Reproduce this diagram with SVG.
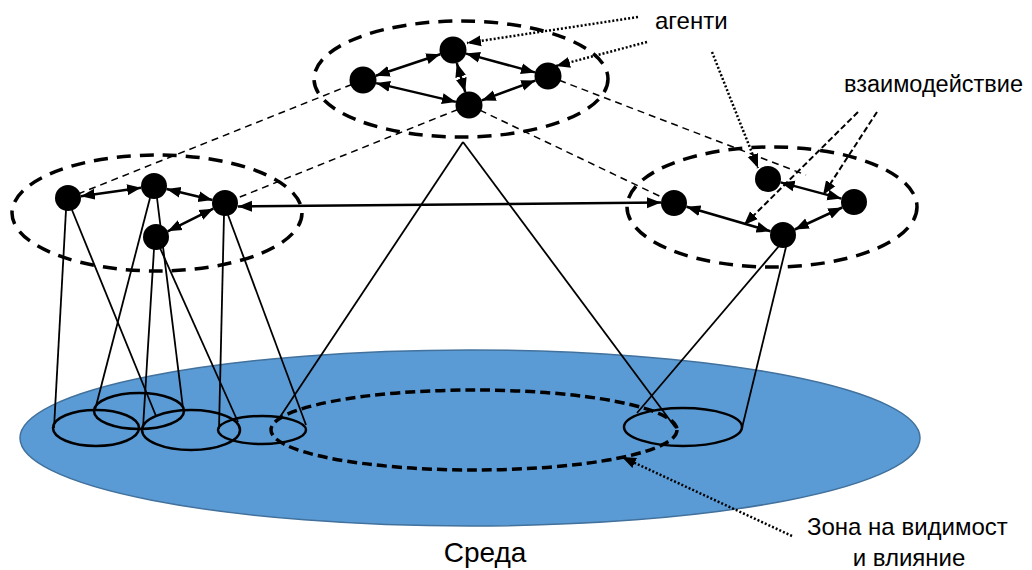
<svg xmlns="http://www.w3.org/2000/svg" width="1032" height="570" viewBox="0 0 1032 570">
  <style>
    .txt { font-family: "Liberation Sans", Arial, sans-serif; fill: #000; }
    .group-ring { fill: none; stroke: #000; stroke-width: 3.5; stroke-dasharray: 14 9; }
    .zone-ring { fill: none; stroke: #000; stroke-width: 3.5; stroke-dasharray: 10 5; }
    .footprint { fill: none; stroke: #000; stroke-width: 2.5; }
    .cone { stroke: #000; stroke-width: 1.8; fill: none; }
    .link { stroke: #000; stroke-width: 1.5; stroke-dasharray: 7 5; fill: none; }
    .agent { fill: #000; }
    .arrow2 { stroke: #000; stroke-width: 2.5; fill: none; marker-start: url(#head); marker-end: url(#head); }
    .dotted { stroke: #000; stroke-width: 2.5; stroke-dasharray: 2 2; fill: none; marker-end: url(#head); }
    .dashptr { stroke: #000; stroke-width: 2; stroke-dasharray: 6 3; fill: none; marker-end: url(#head); }
  </style>
  <defs>
    <marker id="head" markerUnits="userSpaceOnUse" markerWidth="15" markerHeight="12" refX="14" refY="5.5" orient="auto-start-reverse" viewBox="0 0 15 11">
      <path d="M0,0 L14,5.5 L0,11 z" fill="#000"/>
    </marker>
  </defs>

  <!-- environment -->
  <g id="environment">
    <ellipse cx="470" cy="438" rx="450" ry="88" fill="#5B9BD5" stroke="#41719C" stroke-width="1.5"/>
    <ellipse class="zone-ring" cx="474" cy="430" rx="203" ry="40"/>
    <ellipse class="footprint" cx="96" cy="428" rx="43" ry="18"/>
    <ellipse class="footprint" cx="139" cy="411" rx="45" ry="18"/>
    <ellipse class="footprint" cx="191" cy="430" rx="49" ry="20"/>
    <ellipse class="footprint" cx="262" cy="430" rx="44" ry="14"/>
    <ellipse class="footprint" cx="683" cy="427" rx="59" ry="19"/>
  </g>

  <!-- connectors -->
  <g id="connectors">
    <!-- projection cones onto the environment -->
    <line class="cone" x1="66" y1="210" x2="54" y2="428"/>
    <line class="cone" x1="72" y1="210" x2="156" y2="416"/>
    <line class="cone" x1="150" y1="198" x2="95" y2="410"/>
    <line class="cone" x1="157" y1="198" x2="183" y2="408"/>
    <line class="cone" x1="154" y1="249" x2="143" y2="428"/>
    <line class="cone" x1="160" y1="248" x2="238" y2="422"/>
    <line class="cone" x1="224" y1="215" x2="219" y2="429"/>
    <line class="cone" x1="228" y1="215" x2="306" y2="425"/>
    <line class="cone" x1="463" y1="142" x2="278" y2="420"/>
    <line class="cone" x1="463" y1="142" x2="675" y2="427"/>
    <line class="cone" x1="779" y1="246" x2="637" y2="413"/>
    <line class="cone" x1="786" y1="247" x2="742" y2="428"/>

    <!-- links between groups -->
    <line class="link" x1="363" y1="80" x2="68" y2="198"/>
    <line class="link" x1="469" y1="105" x2="225" y2="203"/>
    <line class="link" x1="469" y1="105" x2="674" y2="203"/>
    <line class="link" x1="548" y1="76" x2="806" y2="175"/>
  </g>

  <!-- agent groups -->
  <g id="group-top">
    <ellipse class="group-ring" cx="461" cy="79" rx="147" ry="58"/>
    <g id="agent-t1"><circle class="agent" cx="363" cy="80" r="13.5"/></g>
    <g id="agent-t2"><circle class="agent" cx="453" cy="50" r="13.5"/></g>
    <g id="agent-t3"><circle class="agent" cx="548" cy="76" r="13.5"/></g>
    <g id="agent-t4"><circle class="agent" cx="469" cy="105" r="13.5"/></g>
  </g>

  <g id="group-left">
    <ellipse class="group-ring" cx="157" cy="213" rx="145" ry="58"/>
    <g id="agent-l1"><circle class="agent" cx="68" cy="198" r="13"/></g>
    <g id="agent-l2"><circle class="agent" cx="154" cy="186" r="13"/></g>
    <g id="agent-l3"><circle class="agent" cx="225" cy="203" r="13"/></g>
    <g id="agent-l4"><circle class="agent" cx="156" cy="237" r="13"/></g>
  </g>

  <g id="group-right">
    <ellipse class="group-ring" cx="772" cy="207" rx="145" ry="60"/>
    <g id="agent-r1"><circle class="agent" cx="674" cy="203" r="13"/></g>
    <g id="agent-r2"><circle class="agent" cx="768" cy="179" r="13"/></g>
    <g id="agent-r3"><circle class="agent" cx="854" cy="202" r="13"/></g>
    <g id="agent-r4"><circle class="agent" cx="783" cy="235" r="13"/></g>
  </g>

  <!-- interactions -->
  <g id="interactions">
    <line class="arrow2" x1="375.8" y1="75.7" x2="440.2" y2="54.3"/>
    <line class="arrow2" x1="466" y1="53.6" x2="535" y2="72.4"/>
    <line class="arrow2" x1="456.8" y1="63" x2="465.2" y2="92"/>
    <line class="arrow2" x1="376.1" y1="83.1" x2="455.9" y2="101.9"/>
    <line class="arrow2" x1="481.7" y1="100.4" x2="535.3" y2="80.6"/>

    <line class="arrow2" x1="80.9" y1="196.2" x2="141.1" y2="187.8"/>
    <line class="arrow2" x1="166.6" y1="189" x2="212.4" y2="200"/>
    <line class="arrow2" x1="167.7" y1="231.3" x2="213.3" y2="208.7"/>

    <line class="arrow2" x1="238" y1="206.5" x2="661" y2="202.5"/>

    <line class="arrow2" x1="686.5" y1="206.7" x2="770.5" y2="231.3"/>
    <line class="arrow2" x1="780.6" y1="182.4" x2="841.4" y2="198.6"/>
    <line class="arrow2" x1="794.8" y1="229.5" x2="842.2" y2="207.5"/>
  </g>

  <!-- label pointers -->
  <g id="pointers">
    <line class="dotted" x1="638" y1="17" x2="467" y2="43"/>
    <line class="dotted" x1="647" y1="42" x2="556" y2="66"/>
    <line class="dotted" x1="712" y1="52" x2="758" y2="168"/>
    <line class="dashptr" x1="858" y1="112" x2="744" y2="225"/>
    <line class="dashptr" x1="877" y1="112" x2="823" y2="195"/>
    <line class="dotted" x1="792" y1="536" x2="622" y2="457"/>
  </g>

  <!-- labels -->
  <g id="labels">
    <text class="txt" x="655" y="29" font-size="24">агенти</text>
    <text class="txt" x="844" y="92" font-size="23.5">взаимодействие</text>
    <text class="txt" x="807" y="535" font-size="24">Зона на видимост</text>
    <text class="txt" x="909" y="566" font-size="24" text-anchor="middle">и влияние</text>
    <text class="txt" x="485" y="562" font-size="28" text-anchor="middle">Среда</text>
  </g>
</svg>
